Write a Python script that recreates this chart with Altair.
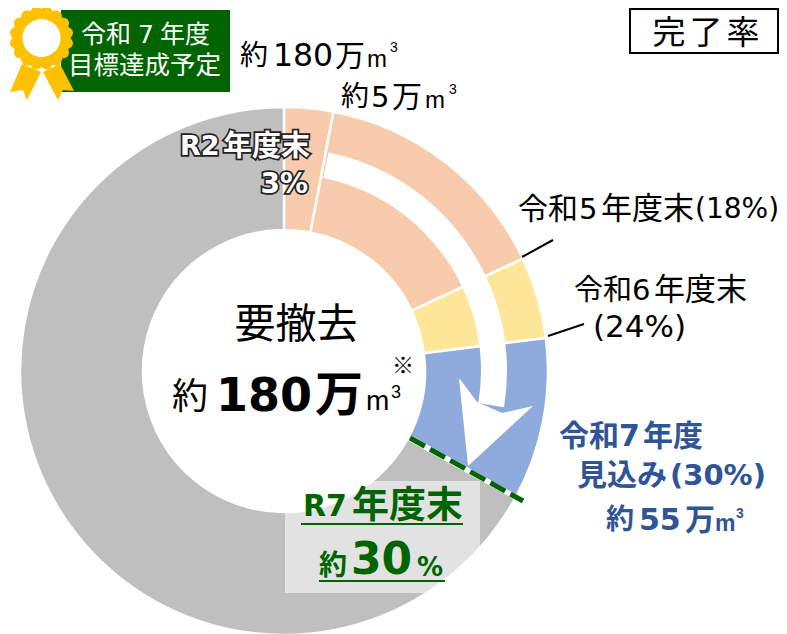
import math
import altair as alt
import pandas as pd

# ---- values (percent of the full circle) ----
segment_names = ["R2年度末", "令和5年度末", "令和6年度末", "令和7年度見込み", "残り"]
segment_start = [0, 3, 18, 23, 33]
segment_end = [3, 18, 23, 33, 100]
segment_colors = ["#F8CBAD", "#F8CBAD", "#FFE699", "#8FAADC", "#BFBFBF"]

W, H = 771, 626
CX, CY = 284 - 8, 371 - 8
JP = "Noto Sans CJK JP"
NUM = "DejaVu Sans"
LAT = "Liberation Sans"
BLUE = "#2F5597"
GREEN = "#006400"

layers = []

def theta_scale():
    return alt.Scale(domain=[0, 100], range=[0, 2 * math.pi])

ring = pd.DataFrame({"name": segment_names, "start": segment_start, "end": segment_end, "color": segment_colors})
layers.append(
    alt.Chart(ring).mark_arc(stroke="white", strokeWidth=2.5).encode(
        theta=alt.Theta("start:Q", scale=theta_scale()),
        theta2="end:Q",
        radius=alt.value(264),
        radius2=alt.value(141),
        x=alt.value(CX),
        y=alt.value(CY),
        color=alt.Color("color:N", scale=None),
    )
)
gap = pd.DataFrame({"start": [3.2], "end": [27.6]})
layers.append(
    alt.Chart(gap).mark_arc(color="white").encode(
        theta=alt.Theta("start:Q", scale=theta_scale()),
        theta2="end:Q",
        radius=alt.value(223),
        radius2=alt.value(197),
        x=alt.value(CX),
        y=alt.value(CY),
    )
)

def shape(points, fill):
    pts = [[x - 8, y - 8] for x, y in points]
    pts.append(pts[0])
    feature = {"type": "Feature", "properties": {}, "geometry": {"type": "Polygon", "coordinates": [pts]}}
    return alt.Chart(alt.InlineData(values=[feature])).mark_geoshape(
        fill=fill, stroke=None
    ).project(type="identity", scale=1, translate=[0, 0])

# arrow head
layers.append(shape([(459, 378), (477, 402), (502, 413), (533, 406), (468, 466)], "white"))

def one():
    return alt.Chart(pd.DataFrame({"a": [0]}))

def rule(x1, y1, x2, y2, color, width, dash=None):
    kw = {"strokeDash": dash} if dash else {}
    return one().mark_rule(color=color, strokeWidth=width, **kw).encode(
        x=alt.value(x1 - 8), y=alt.value(y1 - 8), x2=alt.value(x2 - 8), y2=alt.value(y2 - 8)
    )

def rect(x1, y1, x2, y2, **kw):
    return one().mark_rect(**kw).encode(
        x=alt.value(x1 - 8), y=alt.value(y1 - 8), x2=alt.value(x2 - 8), y2=alt.value(y2 - 8)
    )

def text(s, x, y, size, color="#000000", weight="normal", align="left", font=JP, **kw):
    return one().mark_text(
        fontSize=size, color=color, fontWeight=weight, align=align, baseline="middle", font=font, **kw
    ).encode(x=alt.value(x - 8), y=alt.value(y - 8), text=alt.value(s))

# dashed boundary
layers.append(rule(410, 438, 523, 501, "white", 5))
layers.append(rule(410, 438, 523, 501, GREEN, 5, [17, 6]))

# translucent label box
layers.append(rect(285, 481, 480, 593, fill="white", opacity=0.55))

# badge
layers.append(rect(61, 10, 230, 92, fill=GREEN))
layers.append(shape([(22, 64), (10, 92), (23, 90), (27, 100), (41, 72)], "#FFC000"))
layers.append(shape([(60, 64), (74, 91), (63, 90), (58, 100), (43, 72)], "#FFC000"))
scallop = []
for i in range(160):
    a = 2 * math.pi * i / 160
    r = 29 + 3 * abs(math.sin(8 * a))
    scallop.append((41.5 + r * math.cos(a), 38 + r * math.sin(a)))
layers.append(shape(scallop, "#FFC000"))
disc = [(41.5 + 19 * math.cos(2 * math.pi * i / 60), 38 + 19 * math.sin(2 * math.pi * i / 60)) for i in range(60)]
layers.append(shape(disc, "white"))
layers.append(text("令和", 81, 35, 25, "white"))
layers.append(text("7", 138, 35, 25, "white", font=NUM))
layers.append(text("年度", 160, 35, 25, "white"))
layers.append(text("目標達成予定", 68, 66, 25.5, "white"))

# completion-rate box
layers.append(rect(630, 9, 778, 53, fill="white", stroke="black", strokeWidth=2))
layers.append(text("完", 669, 34, 33, align="center"))
layers.append(text("了", 706, 34, 33, align="center"))
layers.append(text("率", 743, 34, 33, align="center"))

# top labels
layers.append(text("約", 240, 57, 28))
layers.append(text("180", 273, 57, 31.5, font=NUM))
layers.append(text("万", 335, 57, 30))
layers.append(text("m", 367, 60, 24, font=LAT))
layers.append(text("3", 390, 48, 14, font=LAT))
layers.append(text("約", 341, 98, 28))
layers.append(text("5", 371, 98, 29, font=NUM))
layers.append(text("万", 392, 98, 30))
layers.append(text("m", 425, 101, 24, font=LAT))
layers.append(text("3", 449, 90, 14, font=LAT))

# R2 label with outlined letters
outline = {"stroke": "#222222", "strokeWidth": 3.5}
for kw in (outline, {}):
    layers.append(text("R2", 180, 147, 27, "white", "bold", font=NUM, **kw))
    layers.append(text("年度末", 310, 147, 29, "white", "bold", align="right", **kw))
    layers.append(text("3%", 308, 185, 28, "white", "bold", align="right", font=NUM, **kw))

# centre
layers.append(text("要撤去", 296, 326, 41, align="center"))
layers.append(text("約", 172, 398, 36))
layers.append(text("180", 216, 397, 46, weight="bold", font=NUM))
layers.append(text("万", 315, 397, 48, weight="bold"))
layers.append(text("m", 366, 402, 28, font=LAT))
layers.append(text("3", 391, 393, 18, font=LAT))
layers.append(text("※", 403, 366, 22, align="center"))

# right labels
layers.append(text("令和", 518, 210, 30))
layers.append(text("5", 579, 210, 29, font=NUM))
layers.append(text("年度末", 601, 210, 31))
layers.append(text("(18%)", 695, 210, 28, font=NUM))
layers.append(rule(522, 257, 553, 240, "black", 2))
layers.append(text("令和", 574, 291, 29))
layers.append(text("6", 632, 291, 29, font=NUM))
layers.append(text("年度末", 654, 291, 31))
layers.append(text("(24%)", 593, 328, 31, font=NUM))
layers.append(rule(548, 336, 584, 324, "black", 2))

layers.append(text("令和", 559, 437, 30, BLUE, "bold"))
layers.append(text("7", 619, 437, 30, BLUE, "bold", font=NUM))
layers.append(text("年度", 643, 437, 30, BLUE, "bold"))
layers.append(text("見込み", 577, 476, 30, BLUE, "bold"))
layers.append(text("(30%)", 670, 476, 29, BLUE, "bold", font=NUM))
layers.append(text("約", 606, 521, 28, BLUE, "bold"))
layers.append(text("55", 639, 521, 30, BLUE, "bold", font=NUM))
layers.append(text("万", 685, 521, 30, BLUE, "bold"))
layers.append(text("m", 715, 524, 23, BLUE, "bold", font=LAT))
layers.append(text("3", 736, 514, 14, BLUE, "bold", font=LAT))

# R7 label
layers.append(text("R7", 303, 507, 30, GREEN, "bold", font=NUM))
layers.append(text("年度末", 352, 507, 37, GREEN, "bold"))
layers.append(rule(301, 524, 463, 524, GREEN, 2))
layers.append(text("約", 319, 567, 28, GREEN, "bold"))
layers.append(text("30", 351, 561, 44, GREEN, "bold", font=NUM))
layers.append(text("%", 417, 568, 26, GREEN, "bold", font=NUM))
layers.append(rule(319, 581, 445, 581, GREEN, 2))

chart = alt.layer(*layers).properties(
    width=W, height=H, padding=0, autosize=alt.AutoSizeParams(type="none")
).configure_view(stroke=None, clip=False)

chart.save("out.html", embed_options={"renderer": "svg", "actions": False})
